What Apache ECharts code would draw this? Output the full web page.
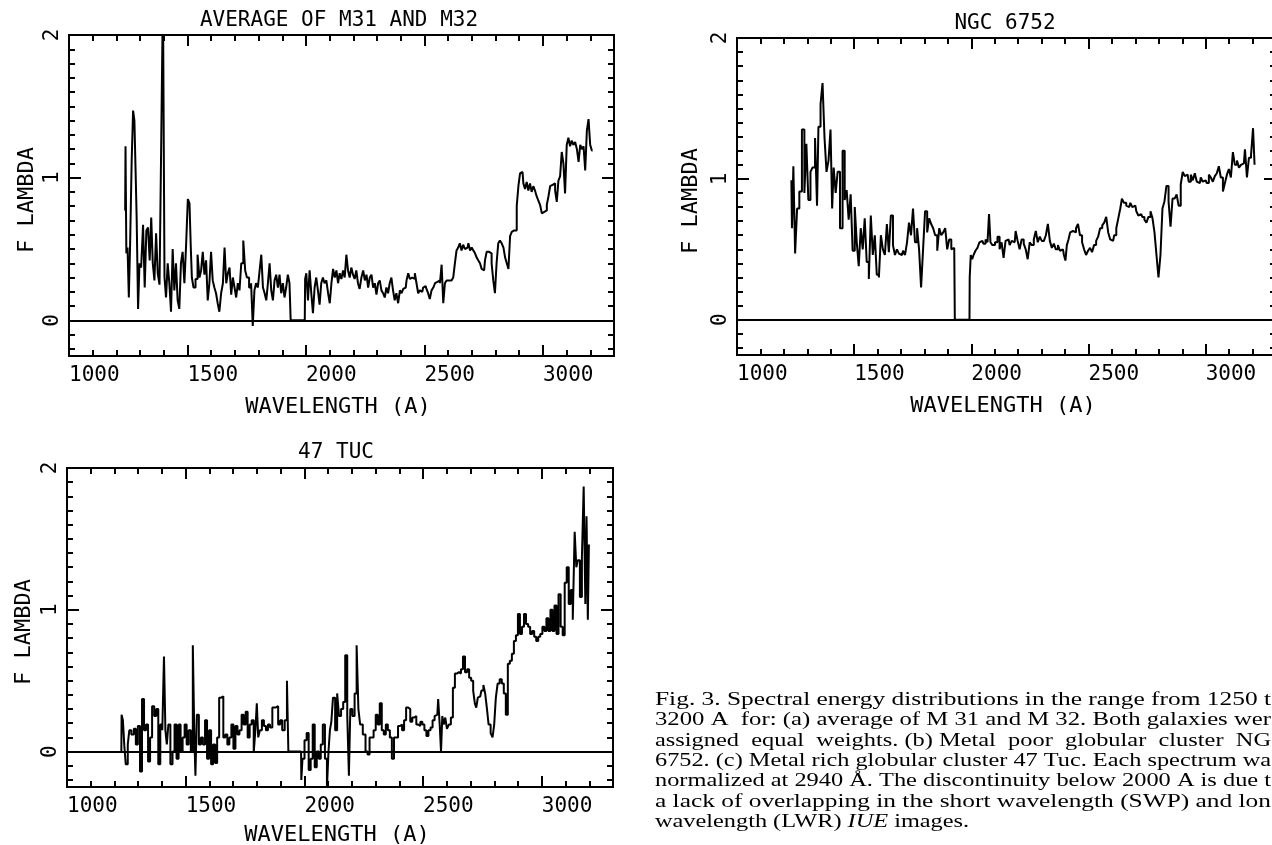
<!DOCTYPE html>
<html><head><meta charset="utf-8">
<script src="https://cdn.jsdelivr.net/npm/echarts@6/dist/echarts.min.js"></script>
<style>html,body{margin:0;padding:0;background:#fff}#c{width:1272px;height:845px}</style>
</head><body><div id="c"></div><script>
// ---------------- DATA ----------------
const panelTitles = ['AVERAGE OF M31 AND M32', 'NGC 6752', '47 TUC'];
const xAxisName = 'WAVELENGTH (A)';
const yAxisName = 'F LAMBDA';
const xMajorTicks = [1000, 1500, 2000, 2500, 3000];
const xMinorTicks = [1100, 1200, 1300, 1400, 1600, 1700, 1800, 1900, 2100, 2200, 2300, 2400, 2600, 2700, 2800, 2900, 3100, 3200];
const yMajorTicks = [0, 1, 2];
const yMinorTicks = [-0.2, -0.1, 0.1, 0.2, 0.3, 0.4, 0.5, 0.6, 0.7, 0.8, 0.9, 1.1, 1.2, 1.3, 1.4, 1.5, 1.6, 1.7, 1.8, 1.9];

// (a) average of M31 and M32
const m31Wave = [1237,1240,1244,1250,1255,1261,1268,1273,1279,1283,1288,1295,1300,1309,1316,1323,1330,1337,1344,1350,1357,1364,1371,1378,1386,1393,1400,1406,1413,1420,1427,1434,1441,1448,1455,1462,1469,1476,1483,1491,1498,1505,1512,1516,1521,1530,1538,1547,1554,1561,1568,1575,1582,1589,1596,1603,1610,1617,1624,1631,1638,1646,1653,1660,1667,1674,1681,1688,1695,1702,1709,1716,1723,1731,1740,1747,1755,1765,1772,1779,1786,1793,1801,1808,1815,1822,1829,1836,1843,1850,1857,1864,1871,1878,1885,1892,1899,1906,1913,1920,1927,1934,1937,1995,1998,2005,2012,2019,2026,2033,2040,2047,2054,2061,2068,2075,2082,2090,2097,2104,2111,2118,2125,2132,2139,2146,2153,2160,2167,2174,2181,2188,2195,2202,2209,2216,2223,2230,2238,2245,2252,2259,2266,2273,2280,2287,2294,2301,2308,2315,2322,2329,2336,2343,2350,2357,2364,2371,2378,2385,2393,2400,2407,2414,2421,2428,2435,2442,2449,2456,2463,2470,2477,2484,2491,2498,2505,2512,2519,2526,2534,2541,2548,2555,2562,2569,2576,2583,2590,2597,2604,2611,2618,2625,2632,2639,2646,2653,2660,2667,2674,2682,2689,2696,2703,2710,2717,2724,2731,2738,2745,2752,2759,2766,2773,2780,2787,2794,2801,2808,2815,2822,2830,2837,2844,2851,2858,2865,2872,2879,2886,2893,2900,2907,2914,2921,2928,2935,2942,2949,2956,2963,2970,2977,2984,2992,2999,3006,3013,3020,3027,3034,3041,3048,3055,3062,3069,3076,3083,3090,3097,3104,3111,3118,3125,3132,3140,3147,3154,3161,3168,3175,3182,3189,3196,3203,3210];
const m31Flux = [0.77,1.22,0.47,0.51,0.16,0.54,1.12,1.47,1.40,1.05,0.72,0.08,0.40,0.37,0.67,0.23,0.63,0.65,0.42,0.72,0.40,0.28,0.61,0.33,0.25,1.29,2.30,0.30,0.16,0.40,0.26,0.06,0.50,0.21,0.40,0.14,0.08,0.40,0.48,0.26,0.54,0.85,0.82,0.51,0.30,0.23,0.29,0.46,0.30,0.35,0.48,0.32,0.42,0.14,0.26,0.48,0.28,0.23,0.19,0.12,0.06,0.19,0.26,0.51,0.26,0.33,0.37,0.18,0.30,0.23,0.16,0.26,0.21,0.40,0.56,0.35,0.30,0.23,0.26,-0.04,0.21,0.26,0.23,0.35,0.46,0.23,0.19,0.14,0.26,0.40,0.21,0.14,0.28,0.32,0.23,0.32,0.19,0.26,0.16,0.23,0.32,0.26,0.00,0.00,0.29,0.33,0.14,0.35,0.19,0.05,0.23,0.30,0.21,0.11,0.26,0.30,0.26,0.28,0.19,0.12,0.26,0.36,0.30,0.35,0.26,0.33,0.29,0.35,0.30,0.46,0.35,0.30,0.37,0.32,0.29,0.35,0.26,0.22,0.30,0.35,0.28,0.32,0.23,0.30,0.32,0.23,0.26,0.18,0.26,0.28,0.21,0.19,0.16,0.23,0.19,0.26,0.30,0.21,0.14,0.19,0.12,0.21,0.19,0.22,0.23,0.28,0.33,0.29,0.30,0.29,0.33,0.26,0.19,0.21,0.20,0.23,0.24,0.22,0.19,0.15,0.21,0.23,0.26,0.27,0.28,0.26,0.39,0.12,0.26,0.28,0.28,0.28,0.29,0.30,0.40,0.49,0.51,0.54,0.49,0.53,0.50,0.51,0.54,0.49,0.51,0.49,0.47,0.44,0.42,0.40,0.36,0.35,0.42,0.48,0.48,0.47,0.40,0.28,0.19,0.40,0.54,0.56,0.54,0.51,0.44,0.40,0.36,0.59,0.62,0.63,0.63,0.80,0.94,1.03,1.04,0.96,0.92,0.97,0.91,0.96,0.90,0.94,0.91,0.87,0.84,0.81,0.75,0.76,0.77,0.81,0.87,0.94,0.95,0.96,0.91,0.83,0.98,1.01,1.18,1.10,0.89,1.23,1.28,1.22,1.26,1.23,1.25,1.20,1.11,1.23,1.20,1.22,1.05,1.33,1.41,1.23,1.19];

// (b) NGC 6752
const ngcWave = [1232,1237,1244,1252,1261,1271,1283,1292,1300,1309,1318,1326,1340,1343,1352,1361,1369,1378,1386,1395,1403,1409,1416,1426,1433,1446,1455,1464,1472,1481,1489,1498,1507,1515,1524,1532,1541,1549,1558,1567,1575,1584,1592,1601,1610,1618,1627,1635,1644,1652,1661,1670,1678,1687,1695,1704,1713,1721,1730,1738,1747,1755,1764,1773,1781,1790,1798,1807,1816,1824,1833,1841,1850,1859,1867,1876,1884,1893,1901,1910,1919,1927,1932,1992,1994,2001,2006,2013,2022,2030,2039,2047,2056,2065,2073,2078,2085,2095,2107,2116,2125,2133,2142,2150,2159,2168,2176,2185,2193,2202,2210,2219,2228,2236,2245,2253,2262,2271,2279,2288,2296,2305,2314,2322,2331,2339,2348,2356,2365,2374,2382,2391,2399,2404,2411,2418,2425,2434,2442,2451,2459,2468,2477,2485,2494,2502,2511,2519,2528,2537,2545,2554,2563,2571,2580,2588,2597,2605,2614,2623,2631,2640,2645,2657,2665,2674,2683,2691,2700,2708,2717,2725,2734,2743,2751,2760,2769,2777,2786,2794,2803,2811,2820,2828,2837,2846,2854,2863,2872,2880,2889,2898,2906,2915,2923,2932,2941,2949,2958,2966,2975,2983,2992,3000,3009,3018,3026,3035,3043,3052,3060,3069,3078,3086,3095,3103,3112,3120,3129,3138,3146,3155,3163,3172,3180,3189,3198,3206,3211];
const ngcFlux = [0.99,0.65,1.09,0.47,0.79,0.91,1.35,0.90,1.25,0.85,1.05,1.08,1.29,0.81,1.37,1.53,1.68,1.29,1.05,1.13,1.35,0.79,1.08,0.90,1.05,0.65,1.20,0.85,0.92,0.71,0.89,0.49,0.80,0.55,0.38,0.65,0.50,0.72,0.41,0.29,0.74,0.46,0.60,0.32,0.30,0.60,0.50,0.46,0.68,0.48,0.74,0.53,0.46,0.50,0.47,0.46,0.49,0.46,0.55,0.69,0.60,0.79,0.55,0.65,0.50,0.23,0.50,0.77,0.62,0.72,0.68,0.65,0.60,0.49,0.65,0.60,0.62,0.65,0.50,0.57,0.50,0.51,0.00,0.00,0.30,0.46,0.43,0.46,0.49,0.51,0.55,0.56,0.54,0.57,0.55,0.75,0.55,0.53,0.55,0.59,0.50,0.55,0.44,0.56,0.57,0.53,0.56,0.55,0.63,0.56,0.50,0.57,0.54,0.50,0.43,0.55,0.53,0.57,0.63,0.55,0.59,0.56,0.55,0.60,0.68,0.56,0.51,0.54,0.50,0.53,0.49,0.50,0.46,0.42,0.53,0.57,0.62,0.63,0.62,0.65,0.68,0.60,0.55,0.50,0.46,0.49,0.51,0.48,0.53,0.56,0.59,0.65,0.67,0.69,0.73,0.62,0.57,0.56,0.60,0.65,0.72,0.79,0.86,0.83,0.81,0.80,0.83,0.80,0.81,0.77,0.74,0.75,0.73,0.71,0.69,0.73,0.77,0.72,0.62,0.46,0.30,0.46,0.79,0.84,0.95,0.84,0.66,0.86,0.87,0.89,0.81,0.96,1.05,1.02,1.03,0.98,1.03,0.99,1.04,0.98,0.97,1.01,0.98,0.99,0.97,1.03,1.01,0.98,1.02,1.04,1.09,1.01,0.91,0.97,1.03,1.07,1.01,1.19,1.10,1.13,1.08,1.10,1.11,1.21,1.01,1.15,1.17,1.36,1.10];

// (c) 47 Tuc
const tucWave = [1229,1231,1240,1243,1252,1260,1265,1277,1286,1294,1303,1312,1320,1329,1337,1346,1354,1363,1372,1380,1389,1397,1406,1411,1418,1423,1431,1440,1449,1457,1466,1474,1483,1491,1500,1508,1517,1526,1534,1539,1543,1551,1560,1568,1577,1586,1594,1603,1611,1620,1628,1637,1645,1654,1663,1671,1680,1688,1697,1705,1714,1722,1731,1740,1748,1757,1765,1774,1782,1791,1796,1803,1808,1817,1825,1834,1842,1851,1859,1871,1885,1894,1902,1911,1923,1930,1935,1986,1988,1996,2005,2014,2022,2031,2039,2048,2056,2065,2073,2082,2091,2099,2104,2111,2116,2125,2134,2142,2150,2159,2168,2176,2185,2190,2197,2207,2216,2224,2231,2239,2253,2262,2270,2279,2287,2296,2305,2313,2322,2330,2339,2347,2356,2364,2373,2382,2390,2399,2407,2416,2424,2433,2442,2450,2459,2467,2476,2484,2493,2501,2510,2518,2527,2536,2544,2553,2560,2567,2573,2578,2584,2590,2597,2604,2613,2621,2630,2638,2647,2655,2664,2672,2681,2690,2698,2707,2715,2721,2727,2734,2741,2750,2758,2765,2772,2780,2789,2796,2803,2810,2818,2827,2836,2844,2853,2861,2870,2878,2887,2895,2904,2912,2921,2929,2938,2947,2955,2964,2972,2981,2989,2998,3007,3015,3024,3032,3041,3049,3058,3066,3075,3084,3092,3101,3109,3118,3126,3135,3142,3149,3155,3166,3172,3181,3186,3191,3197,3200];
const tucFlux = [0.00,0.26,0.22,0.04,-0.09,0.05,0.15,0.12,0.16,0.05,0.18,-0.14,0.37,0.15,0.19,-0.07,0.10,0.32,0.25,0.30,-0.09,0.19,0.15,0.67,0.15,0.05,0.19,-0.09,0.00,0.19,-0.05,0.19,0.00,0.10,0.19,0.05,0.15,0.00,0.75,0.10,-0.17,0.26,0.05,0.10,0.05,0.22,-0.05,0.15,-0.09,0.05,-0.08,0.10,0.38,0.39,0.10,0.12,0.05,0.10,0.19,0.02,0.18,0.12,0.15,0.26,0.19,0.28,0.10,0.19,0.22,-0.01,0.15,0.34,0.10,0.15,0.22,0.18,0.15,0.19,0.17,0.31,0.32,0.19,0.22,0.15,0.22,0.50,0.00,0.00,-0.20,-0.05,0.08,0.13,-0.13,-0.05,0.19,-0.11,0.00,-0.05,0.05,0.19,-0.05,-0.26,0.00,0.15,0.21,0.38,0.15,0.41,0.25,0.30,0.35,0.68,0.26,-0.17,0.30,0.25,0.41,0.75,0.30,0.19,0.12,0.00,-0.02,0.10,0.10,0.15,0.26,0.19,0.34,0.15,0.12,0.19,0.15,0.10,-0.05,0.10,0.10,0.18,0.19,0.15,0.22,0.31,0.30,0.21,0.24,0.25,0.19,0.18,0.21,0.19,0.15,0.11,0.15,0.17,0.22,0.25,0.26,0.37,0.19,0.00,0.25,0.19,0.24,0.16,0.19,0.24,0.45,0.55,0.56,0.55,0.58,0.67,0.56,0.58,0.52,0.50,0.43,0.34,0.31,0.38,0.39,0.43,0.47,0.41,0.31,0.19,0.13,0.10,0.19,0.38,0.48,0.51,0.48,0.41,0.26,0.62,0.64,0.69,0.78,0.82,0.97,0.83,0.88,0.97,0.90,0.88,0.83,0.85,0.81,0.78,0.81,0.83,0.88,0.85,0.94,0.85,1.00,0.85,1.03,0.83,1.11,0.88,0.82,1.19,1.30,1.04,1.14,0.93,1.55,1.30,1.35,1.09,1.37,1.87,1.04,1.66,0.93,1.46];

const captionLines = [
  'Fig. 3. Spectral energy distributions in the range from 1250 t',
  '3200 A  for: (a) average of M 31 and M 32. Both galaxies wer',
  'assigned  equal  weights. (b) Metal  poor  globular  cluster  NG',
  '6752. (c) Metal rich globular cluster 47 Tuc. Each spectrum wa',
  'normalized at 2940 Å. The discontinuity below 2000 A is due t',
  'a lack of overlapping in the short wavelength (SWP) and lon'
];
const captionLast = ['wavelength (LWR) ', 'IUE', ' images.'];

// ---------------- LAYOUT / STYLE ----------------
const X_MIN = 1000, X_MAX = 3300, Y_MIN = -0.25, Y_MAX = 2;
const MONO = 'DejaVu Sans Mono';
const layout = [
  {left: 69, top: 35, width: 545, height: 321, tx: 339, ty: 21, nx: 338, ny: 407, yx: 27, yy: 200},
  {left: 737, top: 38, width: 539, height: 317, tx: 1005, ty: 24, nx: 1003, ny: 406, yx: 691, yy: 201},
  {left: 67, top: 468, width: 546, height: 319, tx: 336, ty: 453, nx: 337, ny: 835, yx: 24, yy: 632}
];
const spectra = [[m31Wave, m31Flux], [ngcWave, ngcFlux], [tucWave, tucFlux]];

const tickLine = {color: '#000', width: 2};
const grids = [], xAxes = [], yAxes = [], series = [], graphics = [];

layout.forEach((L, g) => {
  grids.push({left: L.left, top: L.top, width: L.width, height: L.height, show: true,
    borderColor: '#000', borderWidth: 2, backgroundColor: 'transparent', containLabel: false, outerBoundsMode: 'none'});
  const xb = {gridIndex: g, type: 'value', min: X_MIN, max: X_MAX, silent: true,
    axisLine: {show: false, onZero: false}, splitLine: {show: false}};
  xAxes.push(
    Object.assign({}, xb, {position: 'bottom',
      axisTick: {show: true, inside: true, length: 11, customValues: xMajorTicks, lineStyle: tickLine},
      axisLabel: {show: true, customValues: xMajorTicks, align: 'left', margin: 9, color: '#000', fontFamily: MONO, fontSize: 21,
        formatter: v => String(v)}}),
    Object.assign({}, xb, {position: 'bottom',
      axisTick: {show: true, inside: true, length: 6, customValues: xMinorTicks, lineStyle: tickLine}, axisLabel: {show: false}}),
    Object.assign({}, xb, {position: 'top',
      axisTick: {show: true, inside: true, length: 11, customValues: xMajorTicks, lineStyle: tickLine}, axisLabel: {show: false}}),
    Object.assign({}, xb, {position: 'top',
      axisTick: {show: true, inside: true, length: 6, customValues: xMinorTicks, lineStyle: tickLine}, axisLabel: {show: false}})
  );
  const yb = {gridIndex: g, type: 'value', min: Y_MIN, max: Y_MAX, silent: true,
    axisLine: {show: false, onZero: false}, splitLine: {show: false}};
  yAxes.push(
    Object.assign({}, yb, {position: 'left',
      axisTick: {show: true, inside: true, length: 12, customValues: yMajorTicks, lineStyle: tickLine},
      axisLabel: {show: true, customValues: yMajorTicks, rotate: 90, margin: 6, color: '#000', fontFamily: MONO, fontSize: 21,
        formatter: v => String(v)}}),
    Object.assign({}, yb, {position: 'left',
      axisTick: {show: true, inside: true, length: 6, customValues: yMinorTicks, lineStyle: tickLine}, axisLabel: {show: false}}),
    Object.assign({}, yb, {position: 'right',
      axisTick: {show: true, inside: true, length: 12, customValues: yMajorTicks, lineStyle: tickLine}, axisLabel: {show: false}}),
    Object.assign({}, yb, {position: 'right',
      axisTick: {show: true, inside: true, length: 6, customValues: yMinorTicks, lineStyle: tickLine}, axisLabel: {show: false}})
  );
  const [w, f] = spectra[g];
  series.push({
    type: 'line', xAxisIndex: 4 * g, yAxisIndex: 4 * g, step: 'middle', symbol: 'none', clip: true,
    silent: true, animation: false,
    lineStyle: {color: '#000', width: 2},
    data: w.map((x, i) => [x, f[i]]),
    markLine: {silent: true, symbol: ['none', 'none'], label: {show: false}, animation: false,
      lineStyle: {color: '#000', width: 2, type: 'solid'}, data: [{yAxis: 0}]}
  });
  const mono = {fontFamily: MONO, fill: '#000', align: 'center', verticalAlign: 'middle'};
  graphics.push(
    {type: 'text', x: L.tx, y: L.ty, style: Object.assign({text: panelTitles[g], fontSize: 21}, mono)},
    {type: 'text', x: L.nx, y: L.ny, style: Object.assign({text: xAxisName, fontSize: 22}, mono)},
    {type: 'text', x: L.yx, y: L.yy, rotation: Math.PI / 2, style: Object.assign({text: yAxisName, fontSize: 22}, mono)}
  );
});

// caption (justified lines are fitted to the measured line width)
const ctx = document.createElement('canvas').getContext('2d');
const CAP_SIZE = 18;
ctx.font = CAP_SIZE + 'px "Liberation Serif"';
const capX = 655, capRight = 1271, capY0 = 700, capStep = 20.4;
let refScale = 1;
captionLines.forEach((t, i) => {
  const s = (capRight - capX) / ctx.measureText(t).width;
  if (i === 3) refScale = s;
  graphics.push({type: 'text', x: capX, y: capY0 + i * capStep, scaleX: s,
    style: {text: t, fontFamily: 'Liberation Serif', fontSize: CAP_SIZE, fill: '#000', align: 'left', verticalAlign: 'middle'}});
});
graphics.push({type: 'text', x: capX, y: capY0 + 6 * capStep, scaleX: refScale,
  style: {text: captionLast[0] + '{i|' + captionLast[1] + '}' + captionLast[2], fontFamily: 'Liberation Serif', fontSize: CAP_SIZE,
    fill: '#000', align: 'left', verticalAlign: 'middle',
    rich: {i: {fontFamily: 'Liberation Serif', fontSize: CAP_SIZE, fontStyle: 'italic', fill: '#000'}}}});

const chart = echarts.init(document.getElementById('c'), null, {renderer: 'canvas'});
chart.setOption({
  animation: false, backgroundColor: '#fff',
  grid: grids, xAxis: xAxes, yAxis: yAxes, series: series,
  graphic: {elements: graphics}
});
</script></body></html>
